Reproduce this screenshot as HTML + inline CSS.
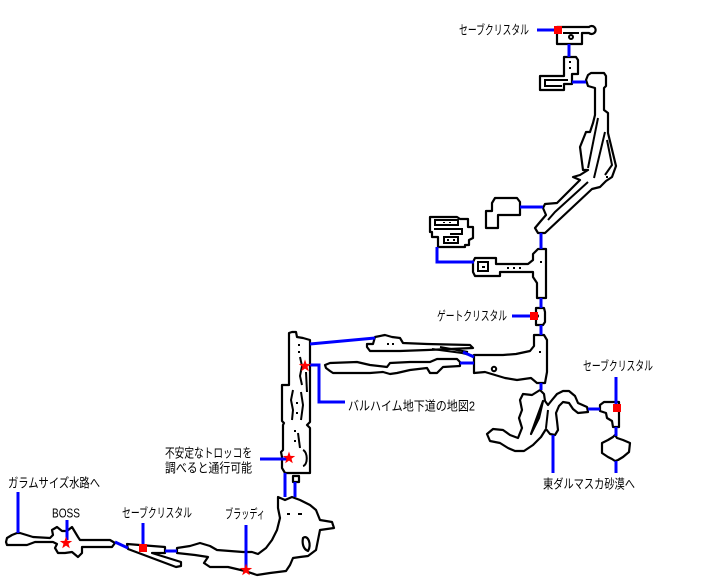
<!DOCTYPE html>
<html><head><meta charset="utf-8">
<style>
html,body{margin:0;padding:0;background:#fff;}
svg{display:block;}
text{font-family:"Liberation Sans","Noto Sans CJK JP",sans-serif;font-size:13px;fill:#000;}
</style></head><body>
<svg width="705" height="587" viewBox="0 0 705 587" xmlns="http://www.w3.org/2000/svg">
<defs>
<polygon id="st" points="0,-6.5 1.5,-2.1 6.2,-2 2.5,0.8 3.8,5.3 0,2.6 -3.8,5.3 -2.5,0.8 -6.2,-2 -1.5,-2.1" fill="#f00"/>
</defs>
<rect width="705" height="587" fill="#fff"/>

<g fill="#fff" stroke="#000" stroke-width="2.2" stroke-linejoin="round">
  <path d="M557,27 H589 A4,4 0 1 1 589,33 H582 V44 H557 Z"/>
  <path d="M564,57 H576 L578,60 V74 H572 V84 H564 V90 H540 V76 H564 Z"/>
  <path d="M586,80 L588,75 L591,73 H604 L606,76 V86 L604,88 V110 L608,113 V133 L616,166 L612,177 L606,181 L600,187 L592,189 L545,233 L538,233 L535,228 L540,222 L546,215 L543,208 L545,204 L557,203 L580,180 L573,177 L580,175 L588,170 L583,170 L580,147 L586,132 L590,132 L593,123 L595,115 V88 L588,86 Z"/>
  <path d="M495,198 H517 L520,202 V215 H498 V228 H486 V211 H492 V203 Z"/>
  <path d="M430,217 H457 L460,219 H468 V227 H473 V238 L469,240 V245 H465 V247 H438 V237 H432 V232 H430 Z"/>
  <path d="M475,258 H496 V264 H528 L533,260 V254 L538,249 H546 V298 H537 V283 L533,277 V272 H500 V276 H475 L473,272 V262 Z"/>
  <path d="M536,308 H544 L545,312 V322 L543,325 H536 V319 L538,316 L536,313 Z"/>
  <path d="M474,355 H503 L516,354 L530,351 L534,346 V335 H544 L547,340 V372 L545,383 H537 L531,378 L517,380 L505,378 L495,375 L485,372 L474,373 Z"/>
  <path d="M375,337 L385,335 L392,337 L400,338 L403,343 L427,344 L470,345 L473,348 L427,350 L400,351 L370,351 L367,347 L367,344 L373,344 Z"/>
  <polygon points="325,365 330,363 357,362 370,365 387,367 390,363 410,362 430,362 437,359 457,359 460,362 460,366 443,367 437,373 430,373 427,368 410,370 397,373 390,374 383,372 370,373 350,373 333,373 330,371 326,368"/>
  <path d="M289,333 L292,332 H296 L297,337 L303,338 L310,340 V422 L307,425 L310,428 V473 H285 L282,468 V457 L281,452 L283,450 V425 L284,423 L282,421 V385 H289 Z"/>
  <rect x="293" y="476" width="6" height="6"/>
  <polygon points="177,548 190,546 200,543 210,546 217,550 230,551 243,552 252,552 258,554 266,548 272,540 277,530 280,518 278,508 278,497 285,500 292,497 300,500 310,505 316,510 320,520 332,522 334,528 320,530 318,540 316,550 308,556 300,557 293,558 290,565 286,571 270,573 257,575 245,571 228,567 210,567 204,563 208,557 195,555 177,553"/>
  <path d="M303,538 C308,534 312,545 308,551 C303,549 302,543 303,538 Z"/>
  <path d="M127,544 L165,547 L165,553 L152,553 L181,562 L181,566 L176,567 L128,549 Z"/>
  <polygon points="6,542 7,538 12,535 17,533 20,533 33,537 50,538 53,535 52,530 57,527 62,531 67,531 72,527 75,532 78,537 80,540 110,540 115,543 112,547 82,547 82,553 78,557 72,552 65,553 58,553 55,548 57,544 53,542 35,542 27,545 7,545"/>
  <polygon points="540,390 544,394 545,401 548,405 552,400 557,394 563,391 569,391 575,396 578,403 587,407 588,412 578,413 573,409 569,403 563,402 559,406 556,413 557,421 558,430 555,435 550,434 546,429 541,437 533,445 524,451 515,451 508,448 500,443 490,441 487,434 493,429 503,430 510,435 518,438 522,428 519,418 522,410 520,400 523,394 532,395"/>
  <path d="M543,401 L536,420 L531,434 L539,418 Z"/>
  <path d="M600,405 L604,402 H619 V427 H613 L612,421 L607,418 L606,413 L600,411 Z"/>
  <polygon points="615,435 617,438 623,440 630,443 629,452 623,457 618,460 615,461 612,459 608,457 602,453 602,443 608,440 613,437"/>
</g>

<g fill="none" stroke="#000" stroke-width="2">
  <path d="M563,33 H579"/>
  <circle cx="571" cy="37" r="2"/>
  <path d="M568,80 H545 V86 H562"/>
  <path d="M598,118 L588,168"/>
  <path d="M605,132 L594,178"/>
  <path d="M607,140 L612,165 L605,175"/>
  <path d="M588,182 L555,212 L548,220"/>
  <rect x="435" y="220" width="23" height="5"/>
  <path d="M434,229 H462 V234 H450"/>
  <rect x="444" y="237" width="14" height="6"/>
  <rect x="478" y="262" width="10" height="9"/>
  <circle cx="494" cy="369" r="2.2"/>
  <path d="M432,349 L462,353 L474,356"/>
  <path d="M440,347 L468,352"/>
  <path d="M300,357 L302,366 L300,376 L302,385"/>
  <path d="M306,372 L307,392"/>
  <path d="M293,390 L291,400 L293,410 L292,420"/>
  <path d="M301,392 L303,405 L301,420"/>
  <path d="M298,433 L300,448"/>
  <path d="M303,450 C308,452 308,465 303,466"/>
  <path d="M548,410 L546,428"/>
  <path d="M287,514 H290 M298,514 H302"/>
</g>
<g fill="#000">
  <rect x="569" y="61" width="2" height="2"/><rect x="569" y="67" width="2" height="2"/>
  <rect x="606" y="176" width="2" height="2"/>
  <rect x="482" y="266" width="3" height="2"/>
  <rect x="507" y="267" width="2" height="2"/><rect x="513" y="267" width="2" height="2"/><rect x="519" y="267" width="2" height="2"/>
  <rect x="540" y="261" width="2" height="2"/>
  <rect x="539" y="351" width="2" height="2"/>
  <rect x="387" y="343" width="2" height="2"/><rect x="392" y="343" width="2" height="2"/>
  <rect x="298" y="344" width="2" height="2"/><rect x="298" y="351" width="2" height="2"/>
  <rect x="296" y="402" width="2" height="2"/><rect x="296" y="412" width="2" height="2"/>
  <rect x="294" y="430" width="2" height="2"/><rect x="294" y="440" width="2" height="2"/>
  <rect x="447" y="239" width="2" height="2"/><rect x="453" y="239" width="2" height="2"/>
  <rect x="443" y="222" width="2" height="1"/><rect x="449" y="222" width="2" height="1"/>
</g>

<g stroke="#0000ff" stroke-width="3" fill="none">
  <path d="M537,30 H554"/>
  <path d="M569,44 V57"/>
  <path d="M572,82 H586"/>
  <path d="M520,207 H543"/>
  <path d="M541,233 V249"/>
  <path d="M437,247 V262 H474"/>
  <path d="M541,298 V308"/>
  <path d="M512,316 H530"/>
  <path d="M541,325 V335"/>
  <path d="M310,344 L375,338"/>
  <path d="M463,352 L474,357"/>
  <path d="M460,363 H474"/>
  <path d="M541,383 V390"/>
  <path d="M310,365 H319 V402 H345"/>
  <path d="M553,435 V473"/>
  <path d="M588,409 H600"/>
  <path d="M616,377 V404"/>
  <path d="M616,427 V436"/>
  <path d="M616,461 V473"/>
  <path d="M260,459 H289"/>
  <path d="M285,473 V497"/>
  <path d="M295,482 V497"/>
  <path d="M246,525 V569"/>
  <path d="M18,492 V533"/>
  <path d="M67,520 V540"/>
  <path d="M115,542 L128,548"/>
  <path d="M143,523 V545"/>
  <path d="M165,551 H177"/>
</g>

<g fill="#f00">
  <rect x="554" y="26" width="8" height="8"/>
  <rect x="530" y="312" width="8" height="8"/>
  <rect x="613" y="404" width="8" height="8"/>
  <rect x="139" y="544" width="8" height="8"/>
</g>
<use href="#st" x="305" y="366"/>
<use href="#st" x="289" y="458"/>
<use href="#st" x="246" y="570"/>
<use href="#st" x="66" y="543"/>

<text x="459" y="34.5" textLength="70" lengthAdjust="spacingAndGlyphs">セーブクリスタル</text>
<text x="437" y="320.5" textLength="70" lengthAdjust="spacingAndGlyphs">ゲートクリスタル</text>
<text x="348" y="410.5" textLength="127" lengthAdjust="spacingAndGlyphs">バルハイム地下道の地図2</text>
<text x="583" y="370.5" textLength="70" lengthAdjust="spacingAndGlyphs">セーブクリスタル</text>
<text x="543" y="488.5" textLength="92" lengthAdjust="spacingAndGlyphs">東ダルマスカ砂漠へ</text>
<text x="165" y="457.5" textLength="87" lengthAdjust="spacingAndGlyphs">不安定なトロッコを</text>
<text x="165" y="472.5" textLength="87" lengthAdjust="spacingAndGlyphs">調べると通行可能</text>
<text x="225" y="518.5" textLength="40" lengthAdjust="spacingAndGlyphs">ブラッディ</text>
<text x="8" y="487.5" textLength="92" lengthAdjust="spacingAndGlyphs">ガラムサイズ水路へ</text>
<text x="52" y="517.5" textLength="28" lengthAdjust="spacingAndGlyphs">BOSS</text>
<text x="122" y="517.5" textLength="70" lengthAdjust="spacingAndGlyphs">セーブクリスタル</text>
</svg>
</body></html>
